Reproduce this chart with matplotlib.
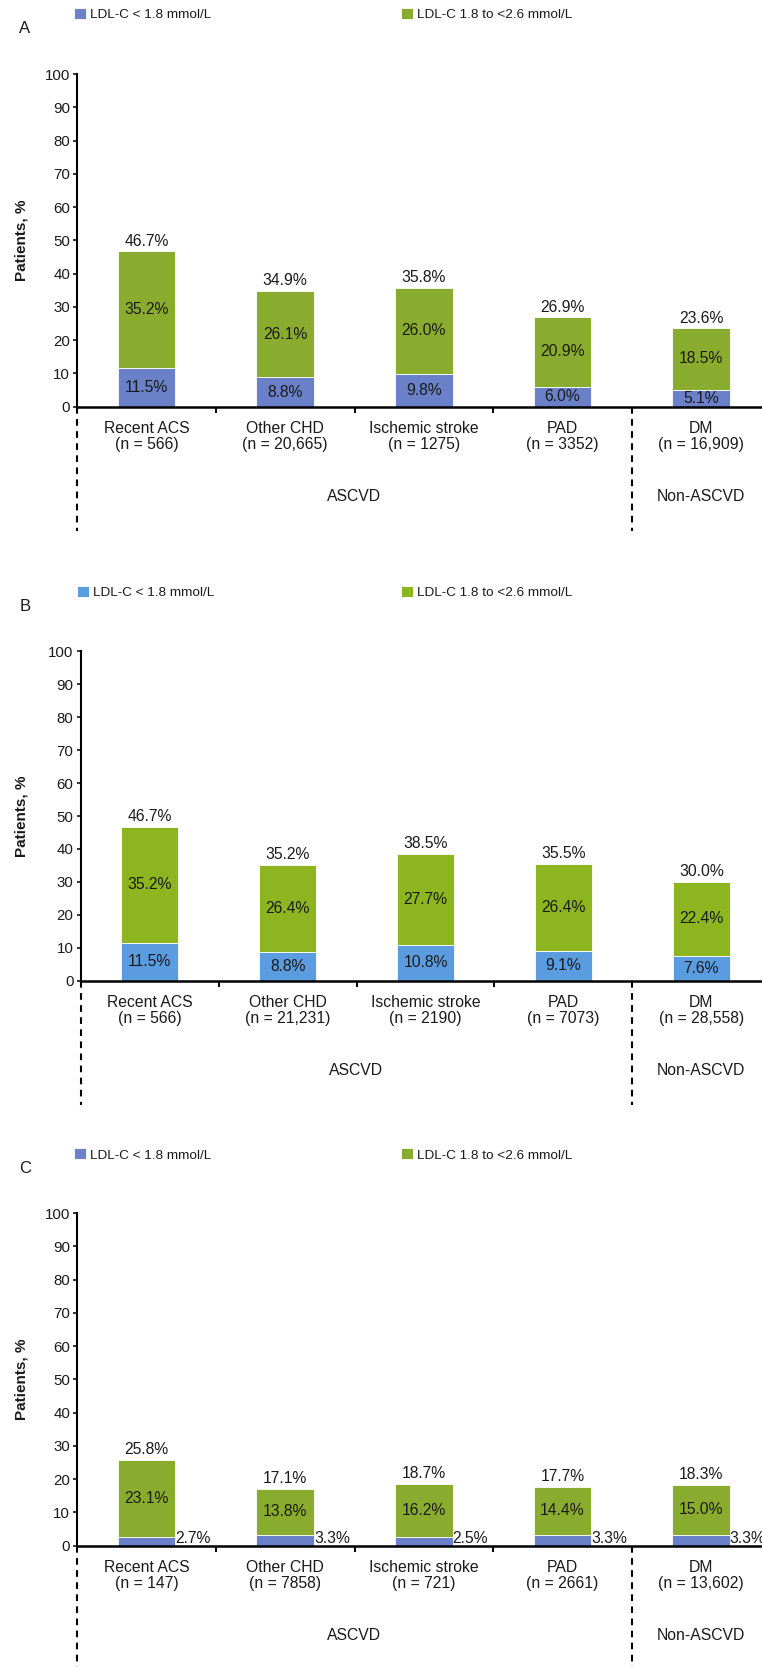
import matplotlib
matplotlib.use("Agg")
import matplotlib.pyplot as plt

plt.rcParams['font.family'] = ['Liberation Sans', 'DejaVu Sans']

# Данные
categories = ["Recent ACS", "Other CHD", "Ischemic stroke", "PAD", "DM"]
groups = ["ASCVD", "Non-ASCVD"]
legend_labels = ["LDL-C < 1.8 mmol/L", "LDL-C 1.8 to <2.6 mmol/L"]

n_a = ["566", "20,665", "1275", "3352", "16,909"]
low_a = [11.5, 8.8, 9.8, 6.0, 5.1]
mid_a = [35.2, 26.1, 26.0, 20.9, 18.5]

n_b = ["566", "21,231", "2190", "7073", "28,558"]
low_b = [11.5, 8.8, 10.8, 9.1, 7.6]
mid_b = [35.2, 26.4, 27.7, 26.4, 22.4]

n_c = ["147", "7858", "721", "2661", "13,602"]
low_c = [2.7, 3.3, 2.5, 3.3, 3.3]
mid_c = [23.1, 13.8, 16.2, 14.4, 15.0]

W, H = 762, 1667
PX = 0.72  # 1 px in points at dpi=100
txt = "#1a1a1a"

fig = plt.figure(figsize=(W / 100, H / 100), dpi=100)


def panel(letter, low, mid, ns, top, bottom, left, leg_y, letter_y, dash_len,
          blue, green, outside_low=False):
    ax = fig.add_axes([left / W, 1 - bottom / H, (W - left) / W, (bottom - top) / H])
    x = list(range(len(categories)))
    bw = 0.415
    b1 = ax.bar(x, low, bw, color=blue, edgecolor="white", linewidth=0.6, zorder=2)
    b2 = ax.bar(x, mid, bw, bottom=low, color=green, edgecolor="white", linewidth=0.6, zorder=2)
    ax.set_xlim(-0.5, 4.44)
    ax.set_ylim(0, 100)
    ax.set_yticks(range(0, 101, 10))
    ax.tick_params(axis="y", length=3.2, width=1.1, pad=2, labelsize=10.8, labelcolor=txt)
    ax.set_xticks(x)
    ax.set_xticklabels([])
    ax.tick_params(axis="x", which="major", length=0)
    ax.set_xticks([0.5, 1.5, 2.5], minor=True)
    ax.tick_params(axis="x", which="minor", length=4.2, width=1.4, direction="out")
    for s in ["top", "right"]:
        ax.spines[s].set_visible(False)
    ax.spines["left"].set_linewidth(1.5)
    ax.spines["bottom"].set_linewidth(1.8)

    for i in x:
        tot = low[i] + mid[i]
        ax.annotate(f"{tot:.1f}%", (i, tot), xytext=(0, 4), textcoords="offset points",
                    ha="center", va="baseline", fontsize=11.3, color=txt)
        ax.text(i, low[i] + mid[i] / 2, f"{mid[i]:.1f}%", ha="center", va="center",
                fontsize=11.3, color=txt, zorder=3)
        if outside_low:
            ax.annotate(f"{low[i]:.1f}%", (i + bw / 2, 0), xytext=(0, 1.6),
                        textcoords="offset points", ha="left", va="baseline",
                        fontsize=11.3, color=txt, annotation_clip=False)
        else:
            ax.text(i, low[i] / 2, f"{low[i]:.1f}%", ha="center", va="center",
                    fontsize=11.3, color=txt, zorder=3)
        # подписи категорий
        ax.annotate(categories[i], (i, 0), xycoords=("data", "axes fraction"),
                    xytext=(0, -22 * PX), textcoords="offset points",
                    ha="center", va="center", fontsize=11.3, color=txt, annotation_clip=False)
        ax.annotate(f"(n = {ns[i]})", (i, 0), xycoords=("data", "axes fraction"),
                    xytext=(0, -38 * PX), textcoords="offset points",
                    ha="center", va="center", fontsize=11.3, color=txt, annotation_clip=False)

    ax.annotate(groups[0], (1.5, 0), xycoords=("data", "axes fraction"),
                xytext=(0, -90 * PX), textcoords="offset points",
                ha="center", va="center", fontsize=11.3, color=txt, annotation_clip=False)
    ax.annotate(groups[1], (4.0, 0), xycoords=("data", "axes fraction"),
                xytext=(0, -90 * PX), textcoords="offset points",
                ha="center", va="center", fontsize=11.3, color=txt, annotation_clip=False)

    # пунктирные разделители
    frac = dash_len / (bottom - top)
    for xd in [-0.5, 3.5]:
        ax.plot([xd, xd], [0, -frac], transform=ax.get_xaxis_transform(), color="black",
                linewidth=1.5, linestyle=(0, (3.2, 2.6)), clip_on=False)

    ax.set_ylabel("Patients, %", fontsize=11, fontweight="bold", color=txt)
    ax.yaxis.set_label_coords((28.5 - left) / (W - left), 0.5)

    fig.text(25 / W, 1 - letter_y / H, letter, ha="center", va="center", fontsize=12, color=txt)

    fig.legend([b1], [legend_labels[0]], loc="center left",
               bbox_to_anchor=((left - 3.5) / W, 1 - leg_y / H), bbox_transform=fig.transFigure,
               frameon=False, fontsize=9.7, handlelength=0.89, handleheight=0.89,
               handletextpad=0.3, borderpad=0, borderaxespad=0, labelcolor=txt)
    fig.legend([b2], [legend_labels[1]], loc="center left",
               bbox_to_anchor=(401 / W, 1 - leg_y / H), bbox_transform=fig.transFigure,
               frameon=False, fontsize=9.7, handlelength=0.89, handleheight=0.89,
               handletextpad=0.3, borderpad=0, borderaxespad=0, labelcolor=txt)
    return ax


panel("A", low_a, mid_a, n_a, 74, 406.7, 77.3, 14.5, 28.6, 124, "#6A80C8", "#8AAC2E")
panel("B", low_b, mid_b, n_b, 651.4, 980.7, 80.7, 592.5, 606.7, 124, "#5B9BE0", "#8DB51F")
panel("C", low_c, mid_c, n_c, 1213.2, 1545.7, 77.3, 1155, 1168.8, 121, "#6A80C8", "#8AAC2E",
      outside_low=True)

plt.savefig("out.png", dpi=100)
